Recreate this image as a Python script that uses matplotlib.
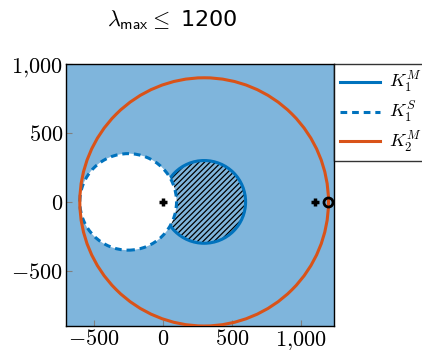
import numpy as np
import matplotlib
matplotlib.use("Agg")
import matplotlib.pyplot as plt
from matplotlib.patches import Circle
from matplotlib.lines import Line2D
from matplotlib.ticker import FuncFormatter

plt.rcParams['mathtext.fontset'] = 'cm'
plt.rcParams['hatch.linewidth'] = 0.9

# circles: (center x, center y, radius)
k1m = (300, 0, 300)
k1s = (-250, 0, 350)
k2m = (300, 0, 900)
# markers
plus_x = [0, 1100]
plus_y = [0, 0]
ring_x = [1200]
ring_y = [0]

xticks = [-500, 0, 500, 1000]
yticks = [-500, 0, 500, 1000]
labels = [r'$K_1^M$', r'$K_1^S$', r'$K_2^M$']

blue = '#0072bd'
orange = '#d95319'
bg = '#7fb5dc'

fig = plt.figure(figsize=(4.22, 3.5), dpi=100)
ax = fig.add_axes([66/422, 1-326/350, 268/422, 262/350])
ax.set_facecolor(bg)

# hatched K1^M
ax.add_patch(Circle(k1m[:2], k1m[2], fill=False, hatch='//////', edgecolor='black', linewidth=0, zorder=2))
ax.add_patch(Circle(k1m[:2], k1m[2], fill=False, edgecolor=blue, linewidth=2.2, zorder=3))
# K1^S white disc, dashed edge
ax.add_patch(Circle(k1s[:2], k1s[2], facecolor='white', edgecolor=blue, linewidth=2.2,
                    linestyle=(0, (2.2, 1.6)), zorder=4))
# K2^M
ax.add_patch(Circle(k2m[:2], k2m[2], fill=False, edgecolor=orange, linewidth=2.2, zorder=5))

ax.plot(plus_x, plus_y, '+', color='black', markersize=6, markeredgewidth=2.5, zorder=6)
ax.plot(ring_x, ring_y, 'o', markerfacecolor='none', markeredgecolor='black',
        markersize=6.5, markeredgewidth=2, zorder=6)

ax.set_xlim(-700, 1240)
ax.set_ylim(-900, 1000)
ax.set_xticks(xticks)
ax.set_yticks(yticks)

def fmt(v, pos):
    s = f'{abs(int(v)):,}'.replace(',', '{,}')
    if v < 0:
        s = '-' + s
    return f'${s}$'

ax.xaxis.set_major_formatter(FuncFormatter(fmt))
ax.yaxis.set_major_formatter(FuncFormatter(fmt))
ax.tick_params(direction='in', color='gray', length=4, labelsize=16, pad=2)
for sp in ax.spines.values():
    sp.set_linewidth(1.0)

handles = [Line2D([], [], color=blue, lw=2.2),
           Line2D([], [], color=blue, lw=2.2, linestyle=(0, (2.2, 1.6))),
           Line2D([], [], color=orange, lw=2.2)]
leg = ax.legend(handles, labels, loc='upper left', bbox_to_anchor=(1.0, 1.0),
                fontsize=13, frameon=True, fancybox=False, edgecolor='black',
                borderaxespad=0, handlelength=2.2, handletextpad=0.5,
                borderpad=0.35, labelspacing=0.25)
leg.get_frame().set_linewidth(1.0)

fig.text(172/422, 1-20/350, r'$\lambda_{\mathsf{max}} \leq$ 1200', ha='center', va='center',
         fontsize=16, family='DejaVu Sans')

fig.savefig('out.png', dpi=100)
